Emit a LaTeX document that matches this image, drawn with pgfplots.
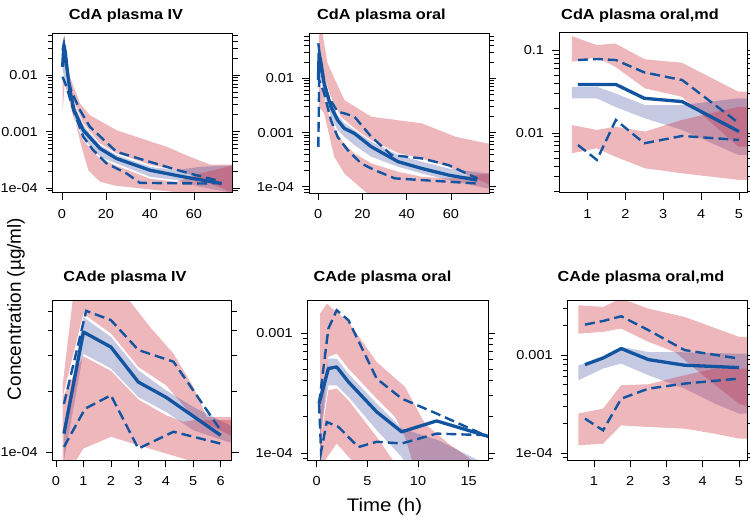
\documentclass[border=0pt]{standalone}
\usepackage{fontspec}
\setmainfont{Liberation Sans}[FakeStretch=1.12]
\newfontfamily\plainfont{Liberation Sans}
\usepackage{pgfplots}
\pgfplotsset{compat=1.18}
\definecolor{pinkc}{RGB}{205,45,60}
\definecolor{lavc}{RGB}{50,60,150}
\definecolor{linec}{RGB}{18,84,160}
\pgfplotsset{
  every axis/.append style={scale only axis, axis on top,
    tick align=outside, xtick pos=left, ytick pos=both, yticklabel pos=left,
    major tick length=7bp, minor tick length=5bp,
    every tick/.style={black, line width=0.7bp},
    axis line style={black, line width=0.9bp},
    tick label style={font=\fontsize{13}{14}\selectfont},
    xticklabel style={yshift=-6bp},
    yticklabel style={xshift=-4.5bp},
    anchor=south west},
  pinkband/.style={draw=none, fill=pinkc, fill opacity=0.34, forget plot},
  lavband/.style={draw=none, fill=lavc, fill opacity=0.28, forget plot},
  med/.style={linec, line width=3.3bp, line join=round, forget plot},
  pct/.style={linec, line width=2.4bp, dash pattern=on 10bp off 5bp, forget plot},
}
\begin{document}
\begin{tikzpicture}[x=1bp,y=1bp]
\path[use as bounding box] (0,0) rectangle (750,519);
% ---------------- Panel 1 ----------------
\begin{axis}[ymode=log, at={(52.7bp,326.3bp)}, width=180bp, height=159.4bp,
  xmin=-4.2, xmax=77.6, ymin=8.32e-5, ymax=0.055,
  xtick={0,20,40,60}, xticklabels={0,20,40,60},
  ytick={1e-4,1e-3,1e-2}, yticklabels={1e-04,0.001,0.01},
  minor ytick={9e-5,2e-4,3e-4,4e-4,5e-4,6e-4,7e-4,8e-4,9e-4,2e-3,3e-3,4e-3,5e-3,6e-3,7e-3,8e-3,9e-3,2e-2,3e-2,4e-2,5e-2}]
\addplot[pinkband] coordinates {(0.3,0.0389)(1.36,0.0317)(3.6,0.00935)(8.2,0.00315)(12.7,0.00196)(24.8,0.00106)(47.6,5.40e-4)(58.2,3.59e-4)(67.3,2.62e-4)(78.6,2.62e-4)
 (78.6,8.05e-5)(67.3,1.21e-4)(55.2,1.95e-4)(40,2.6e-4)(24.8,4.15e-4)(17.3,6.2e-4)(9.7,0.00142)(5.2,0.0036)(2.9,0.00935)(0.3,0.0277)};
\addplot[lavband] coordinates {(0.3,0.0340)(2.1,0.0140)(5.2,0.00337)(9.7,0.00130)(17.3,5.77e-4)(24.8,3.84e-4)(40,2.39e-4)(52.1,2.08e-4)(62.7,2.39e-4)(78.6,2.55e-4)
 (78.6,8.05e-5)(62.7,1.06e-4)(52.1,1.39e-4)(40,1.59e-4)(24.8,2.74e-4)(17.3,3.59e-4)(9.7,7.57e-4)(5.2,0.00196)(2.1,0.00622)(0.3,0.0123)};
\addplot[pinkband] coordinates {(0.3,0.00935)(2.9,0.00414)(5.2,0.0018)(9.7,7.0e-4)(17.3,3.3e-4)(24.8,2.5e-4)(40,1.47e-4)(52.1,1.29e-4)(62.7,1.82e-4)(78.6,2.55e-4)
 (78.6,5e-5)(52,8.5e-5)(40,9.5e-5)(24.8,1.1e-4)(17.3,1.3e-4)(12,2.08e-4)(8.9,5.40e-4)(5.2,0.00210)(1.36,0.00816)(0.3,0.00224)};
\addplot[med] coordinates {(0.3,0.0140)(0.9,0.0340)(1.5,0.0259)(2.4,0.0123)(3.6,0.00543)(5.5,0.00240)(9.7,0.00106)(17.3,5.04e-4)(24.8,3.35e-4)(40,2.08e-4)(55.2,1.59e-4)(72.6,1.21e-4)};
\addplot[pct] coordinates {(0.3,0.0277)(0.9,0.0363)(2.9,0.00816)(4.4,0.00507)(8.2,0.00240)(12.7,0.00122)(24.8,4.40e-4)(40,2.92e-4)(55.2,1.95e-4)(71.1,1.35e-4)};
\addplot[pct] coordinates {(0.3,0.00935)(2.1,0.00622)(5.2,0.00240)(9.7,8.11e-4)(14.2,4.71e-4)(20.3,2.74e-4)(29.4,1.82e-4)(35.5,1.24e-4)(64.2,1.21e-4)(71.1,1.24e-4)};
\end{axis}
% ---------------- Panel 2 ----------------
\begin{axis}[ymode=log, at={(309bp,325.7bp)}, width=180bp, height=160bp,
  xmin=-4.1, xmax=77.2, ymin=7.59e-5, ymax=0.0676,
  xtick={0,20,40,60}, xticklabels={0,20,40,60},
  ytick={1e-4,1e-3,1e-2}, yticklabels={1e-04,0.001,0.01},
  minor ytick={8e-5,9e-5,2e-4,3e-4,4e-4,5e-4,6e-4,7e-4,8e-4,9e-4,2e-3,3e-3,4e-3,5e-3,6e-3,7e-3,8e-3,9e-3,2e-2,3e-2,4e-2,5e-2,6e-2}]
\addplot[pinkband] coordinates {(0.46,0.158)(4.26,0.0189)(11.85,0.00398)(24.01,0.00196)(46.81,0.00148)(62,8.38e-4)(76.4,6.31e-4)(78.7,6.31e-4)
 (78.7,1.0e-4)(76.4,1.15e-4)(58.97,2.34e-4)(46.81,3.3e-4)(36.17,4.2e-4)(24.01,7.27e-4)(16.41,0.0012)(10.33,0.00196)(5.78,0.00459)(2.74,0.0107)(0.46,0.0218)};
\addplot[lavband] coordinates {(0.46,0.0189)(2.74,0.00931)(5.78,0.00371)(8.81,0.00210)(11.85,0.00148)(16.41,0.00111)(24.01,6.78e-4)(36.17,3.85e-4)(46.81,2.90e-4)(58.97,2.18e-4)(76.4,1.76e-4)(78.7,1.76e-4)
 (78.7,9.31e-5)(76.4,9.31e-5)(58.97,1.33e-4)(46.81,1.76e-4)(36.17,2.34e-4)(24.01,3.58e-4)(16.41,5.88e-4)(11.85,8.38e-4)(8.81,0.00111)(5.78,0.00196)(2.74,0.00528)(0.46,0.0124)};
\addplot[pinkband] coordinates {(0.46,0.00809)(2.74,0.00459)(5.78,0.00158)(10.33,7.27e-4)(16.41,4.12e-4)(24.01,2.70e-4)(36.17,1.89e-4)(46.81,1.53e-4)(58.97,1.43e-4)(76.4,1.76e-4)(78.7,1.76e-4)
 (78.7,4e-6)(24.01,6.53e-5)(11.85,1.76e-4)(7.29,3.58e-4)(2.74,0.00226)(0.46,0.003)};
\addplot[med] coordinates {(0.15,0.00931)(0.46,0.0290)(1.22,0.0203)(2.74,0.00809)(5.78,0.00300)(8.81,0.00170)(11.85,0.00119)(16.41,9.66e-4)(24.01,5.48e-4)(36.17,2.90e-4)(46.81,2.18e-4)(58.97,1.64e-4)(71.88,1.33e-4)};
\addplot[pct] coordinates {(0.1,0.0442)(1.98,0.0107)(4.26,0.00492)(8.81,0.00243)(11.85,0.00226)(16.41,0.00196)(24.01,8.38e-4)(33.13,3.85e-4)(46.81,3.34e-4)(58.97,2.51e-4)(71.88,1.43e-4)};
\addplot[pct] coordinates {(0.1,5.47e-4)(0.5,0.00931)(2.74,0.00528)(5.78,0.00170)(8.81,8.38e-4)(13.37,4.75e-4)(19.45,2.70e-4)(25.53,2.03e-4)(34.65,1.43e-4)(46.81,1.33e-4)(71.88,1.15e-4)};
\end{axis}
% ---------------- Panel 3 ----------------
\begin{axis}[ymode=log, at={(559bp,326.3bp)}, width=188.7bp, height=160bp,
  xmin=0.25, xmax=5.23, ymin=1.905e-3, ymax=0.162,
  xtick={1,2,3,4,5}, xticklabels={1,2,3,4,5},
  ytick={1e-2,1e-1}, yticklabels={0.01,0.1},
  minor ytick={2e-3,3e-3,4e-3,5e-3,6e-3,7e-3,8e-3,9e-3,2e-2,3e-2,4e-2,5e-2,6e-2,7e-2,8e-2,9e-2}]
\addplot[pinkband] coordinates {(0.587,0.1475)(1.246,0.1148)(1.73,0.1202)(2.52,0.0772)(3.49,0.0704)(4.98,0.0315)(5.3,0.0315)
 (5.3,0.00684)(4.98,0.00684)(3.49,0.0274)(2.52,0.0345)(1.73,0.0630)(1.246,0.0816)(0.587,0.0723)};
\addplot[lavband] coordinates {(0.587,0.0361)(1.246,0.0361)(1.73,0.0301)(2.52,0.0217)(3.49,0.0217)(4.98,0.0262)(5.3,0.0262)
 (5.3,0.00543)(4.98,0.00543)(3.49,0.0109)(2.52,0.0150)(1.73,0.0207)(1.246,0.0262)(0.587,0.0262)};
\addplot[pinkband] coordinates {(0.587,0.01247)(1.246,0.01087)(1.73,0.0119)(2.52,0.01038)(3.49,0.01435)(4.98,0.0207)(5.3,0.0207)
 (5.3,0.00272)(4.98,0.00272)(3.49,0.00327)(2.52,0.00375)(1.73,0.00519)(1.246,0.00653)(0.587,0.00569)};
\addplot[med] coordinates {(0.75,0.0385)(1.25,0.0385)(1.75,0.0385)(2.5,0.0262)(3.5,0.0239)(5,0.0104)};
\addplot[pct] coordinates {(0.75,0.0758)(1.25,0.078)(1.75,0.0758)(2.5,0.0538)(3.5,0.0435)(5,0.0131)};
\addplot[pct] coordinates {(0.75,0.00716)(1.25,0.00473)(1.75,0.01435)(2.5,0.00751)(3.5,0.00921)(5,0.00824)};
\end{axis}
% ---------------- Panel 4 ----------------
\begin{axis}[ymode=log, at={(52.7bp,58.7bp)}, width=179bp, height=160bp,
  xmin=-0.12, xmax=6.4, ymin=9.1e-5, ymax=5.64e-4,
  xtick={0,1,2,3,4,5,6}, xticklabels={0,1,2,3,4,5,6},
  ytick={1e-4}, yticklabels={1e-04},
  minor ytick={2e-4,3e-4,4e-4,5e-4}]
\addplot[pinkband] coordinates {(0.243,2.14e-4)(0.693,7.08e-4)(2.211,7.08e-4)(2.576,5.85e-4)(3.426,4.16e-4)(4.277,3.07e-4)(5.006,2.10e-4)(5.492,1.49e-4)(6.46,1.49e-4)
 (6.46,1.19e-4)(5.006,1.49e-4)(4.01,2.14e-4)(3.0,2.64e-4)(2.005,3.86e-4)(0.996,4.84e-4)(0.243,1.87e-4)};
\addplot[lavband] coordinates {(0.292,1.33e-4)(0.996,4.66e-4)(2.005,3.71e-4)(3.0,2.54e-4)(4.01,2.02e-4)(5.006,1.67e-4)(6.46,1.33e-4)
 (6.46,1.10e-4)(5.006,1.28e-4)(4.01,1.58e-4)(3.0,1.87e-4)(2.005,2.59e-4)(0.996,3.07e-4)(0.292,9.09e-5)};
\addplot[pinkband] coordinates {(0.243,1.87e-4)(0.996,2.98e-4)(2.005,2.52e-4)(3.0,1.82e-4)(4.01,1.52e-4)(4.641,1.41e-4)(5.006,1.44e-4)(6.46,1.44e-4)
 (6.46,7.82e-5)(4.034,9.81e-5)(3.0,1.08e-4)(2.005,1.19e-4)(0.996,1.04e-4)(0.51,8.11e-5)(0.243,6.97e-5)};
\addplot[med] coordinates {(0.29,1.233e-4)(1.0,3.93e-4)(2.0,3.31e-4)(3.0,2.22e-4)(4.0,1.87e-4)(6.0,1.21e-4)};
\addplot[pct] coordinates {(0.29,1.73e-4)(1.1,5.0e-4)(2.0,4.5e-4)(3.0,3.2e-4)(4.28,2.8e-4)(6.0,1.28e-4)};
\addplot[pct] coordinates {(0.29,1.06e-4)(1.06,1.64e-4)(2.0,1.91e-4)(3.0,1.04e-4)(4.28,1.26e-4)(6.0,1.10e-4)};
\end{axis}
% ---------------- Panel 5 ----------------
\begin{axis}[ymode=log, at={(307.7bp,58.7bp)}, width=180.6bp, height=160bp,
  xmin=-0.89, xmax=16.94, ymin=8.69e-5, ymax=1.87e-3,
  xtick={0,5,10,15}, xticklabels={0,5,10,15},
  ytick={1e-4,1e-3}, yticklabels={1e-04,0.001},
  minor ytick={9e-5,2e-4,3e-4,4e-4,5e-4,6e-4,7e-4,8e-4,9e-4}]
\addplot[pinkband] coordinates {(0.33,1.45e-3)(0.99,1.75e-3)(3.13,1.24e-3)(5.92,5.73e-4)(8.72,3.55e-4)(10.69,1.75e-4)(12.99,1.2e-4)(15.95,8e-5)(17.5,6e-5)
 (17.5,1.5e-5)(9.7,7.18e-5)(8.72,1.36e-4)(7.73,2.0e-4)(5.92,2.84e-4)(3.13,5.05e-4)(1.97,6.73e-4)(1.15,6.31e-4)(0.33,9.87e-5)};
\addplot[lavband] coordinates {(0.33,2.42e-4)(1.15,6.11e-4)(1.97,6.11e-4)(3.13,4.58e-4)(5.92,2.58e-4)(8.39,1.60e-4)(12.0,1.28e-4)(15.95,8.69e-5)(17.5,8.0e-5)
 (17.5,2e-5)(9.7,5.55e-5)(8.39,9.26e-5)(5.92,1.55e-4)(3.13,2.93e-4)(1.97,3.66e-4)(1.15,3.66e-4)(0.33,1.36e-4)};
\addplot[pinkband] coordinates {(0.33,1.2e-4)(1.15,3.33e-4)(1.97,3.44e-4)(3.13,2.75e-4)(5.92,1.36e-4)(7.07,9.87e-5)(8.72,6.31e-5)(17.5,2e-5)
 (17.5,1e-5)(5.92,4.3e-5)(3.45,8.69e-5)(1.97,1.2e-4)(0.82,8.69e-5)(0.33,4.3e-5)};
\addplot[med] coordinates {(0.23,2.58e-4)(1.15,5.05e-4)(1.97,5.21e-4)(3.13,3.91e-4)(5.92,2.20e-4)(8.39,1.50e-4)(11.84,1.85e-4)(17.5,1.33e-4)};
\addplot[pct] coordinates {(0.23,2.58e-4)(1.15,1.087e-3)(1.97,1.545e-3)(3.13,1.276e-3)(5.92,4.16e-4)(8.39,2.84e-4)(11.84,2.13e-4)(17.5,1.3e-4)};
\addplot[pct] coordinates {(0.23,2.58e-4)(0.43,1.02e-4)(0.99,1.81e-4)(2.14,1.65e-4)(4.11,1.12e-4)(5.92,1.24e-4)(8.39,1.20e-4)(11.84,1.45e-4)(17.5,1.4e-4)};
\end{axis}
% ---------------- Panel 6 ----------------
\begin{axis}[ymode=log, at={(567.7bp,58.7bp)}, width=180bp, height=160bp,
  xmin=0.274, xmax=5.24, ymin=8.41e-5, ymax=3.61e-3,
  xtick={1,2,3,4,5}, xticklabels={1,2,3,4,5},
  ytick={1e-4,1e-3}, yticklabels={1e-04,0.001},
  minor ytick={9e-5,2e-4,3e-4,4e-4,5e-4,6e-4,7e-4,8e-4,9e-4,2e-3,3e-3}]
\addplot[pinkband] coordinates {(0.568,3.21e-3)(1.248,3.09e-3)(1.745,3.76e-3)(2.499,2.97e-3)(3.501,2.44e-3)(5.0,1.53e-3)(5.3,1.53e-3)
 (5.3,2.94e-4)(5.0,3.18e-4)(4.062,5.97e-4)(3.234,1.07e-3)(2.499,1.36e-3)(1.745,1.86e-3)(1.248,1.72e-3)(0.568,1.65e-3)};
\addplot[lavband] coordinates {(0.568,7.85e-4)(1.248,9.18e-4)(1.745,1.21e-3)(2.499,1.07e-3)(3.234,1.07e-3)(5.0,1.03e-3)(5.3,1.03e-3)
 (5.3,2.52e-4)(5.0,2.52e-4)(4.338,3.18e-4)(3.501,4.53e-4)(2.499,6.21e-4)(1.745,8.16e-4)(1.248,7.26e-4)(0.568,5.51e-4)};
\addplot[pinkband] coordinates {(0.568,2.52e-4)(1.248,2.83e-4)(1.745,4.90e-4)(2.499,5.02e-4)(3.501,6.21e-4)(4.338,7.26e-4)(5.0,7.26e-4)(5.3,7.26e-4)
 (5.3,1.40e-4)(5.0,1.40e-4)(4.338,1.57e-4)(3.501,1.77e-4)(2.499,1.84e-4)(1.745,1.91e-4)(1.248,1.24e-4)(0.568,1.20e-4)};
\addplot[med] coordinates {(0.75,7.96e-4)(1.25,9.31e-4)(1.75,1.161e-3)(2.5,8.96e-4)(3.5,7.85e-4)(5,7.43e-4)};
\addplot[pct] coordinates {(0.75,2.04e-3)(1.25,2.22e-3)(1.75,2.48e-3)(2.5,1.79e-3)(3.5,1.12e-3)(5,9.18e-4)};
\addplot[pct] coordinates {(0.75,2.24e-4)(1.25,1.70e-4)(1.75,3.58e-4)(2.5,4.53e-4)(3.5,5.10e-4)(5,5.74e-4)};
\end{axis}
% ---------------- Titles and labels ----------------
\begin{scope}[every node/.style={font=\fontsize{14.6}{16}\selectfont\bfseries, anchor=base, inner sep=0pt}]
\node at (126,499) {CdA plasma IV};
\node at (381.5,499) {CdA plasma oral};
\node at (640,499) {CdA plasma oral,md};
\node at (125,237) {CAde plasma IV};
\node at (382.5,237) {CAde plasma oral};
\node at (641,237) {CAde plasma oral,md};
\end{scope}
\node[rotate=90, font=\plainfont\fontsize{19}{21}\selectfont, inner sep=0pt] at (16,210) {Concentration (µg/ml)};
\node[font=\fontsize{18.3}{20}\selectfont, anchor=base, inner sep=0pt] at (384.5,7.3) {Time (h)};
\end{tikzpicture}
\end{document}
